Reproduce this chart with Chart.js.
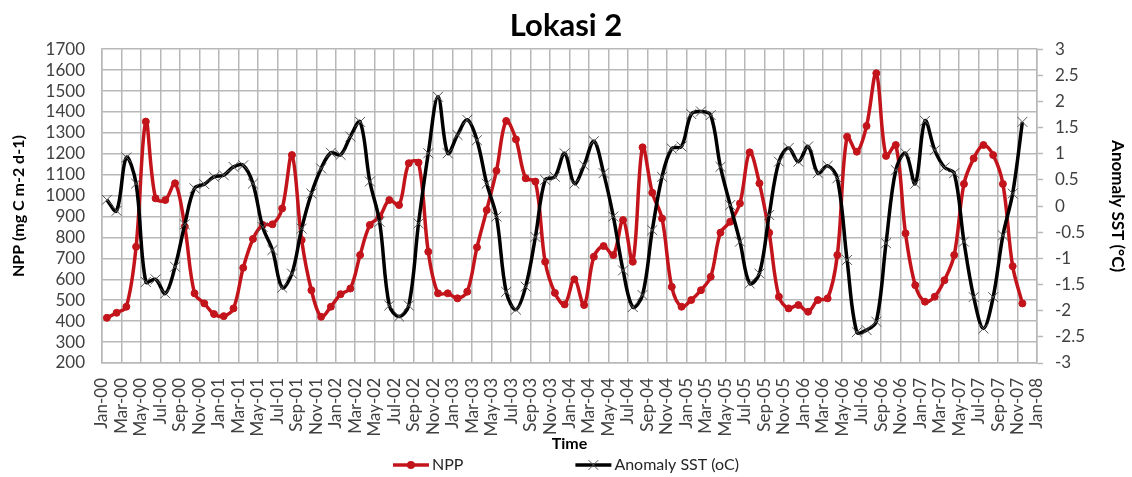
<!DOCTYPE html>
<html>
<head>
<meta charset="utf-8">
<script src="https://cdn.jsdelivr.net/npm/chart.js@4.4.1/dist/chart.umd.min.js"></script>
<style>
  html, body { margin: 0; padding: 0; background: #fff; }
  #wrap { width: 1132px; height: 477px; position: relative; }
</style>
</head>
<body>
<div id="wrap"><canvas id="chart"></canvas></div>
<script>
// x tick labels, one every 2 months
const tickLabels = [
  "Jan-00","Mar-00","May-00","Jul-00","Sep-00","Nov-00",
  "Jan-01","Mar-01","May-01","Jul-01","Sep-01","Nov-01",
  "Jan-02","Mar-02","May-02","Jul-02","Sep-02","Nov-02",
  "Jan-03","Mar-03","May-03","Jul-03","Sep-03","Nov-03",
  "Jan-04","Mar-04","May-04","Jul-04","Sep-04","Nov-04",
  "Jan-05","Mar-05","May-05","Jul-05","Sep-05","Nov-05",
  "Jan-06","Mar-06","May-06","Jul-06","Sep-06","Nov-06",
  "Jan-07","Mar-07","May-07","Jul-07","Sep-07","Nov-07",
  "Jan-08"
];

// monthly values Jan-00 .. Nov-07
const nppValues = [
  416, 440, 469, 756, 1354, 987, 979, 1059, 852, 533, 485, 434,
  424, 461, 655, 793, 860, 863, 939, 1194, 788, 548, 421, 469,
  529, 556, 716, 860, 899, 979, 955, 1155, 1158, 732, 533, 533,
  509, 541, 753, 931, 1119, 1357, 1269, 1083, 1067, 684, 535, 480,
  600, 477, 708, 759, 716, 883, 684, 1231, 1014, 891, 564, 469,
  501, 548, 612, 823, 875, 963, 1207, 1059, 823, 517, 461, 477,
  445, 501, 509, 716, 1282, 1210, 1333, 1585, 1190, 1242, 820, 572,
  493, 517, 596, 716, 1056, 1178, 1242, 1194, 1056, 663, 485
];

const sstValues = [
  0.12, -0.09, 0.93, 0.43, -1.45, -1.40, -1.67, -1.16, -0.35, 0.34, 0.42, 0.56,
  0.59, 0.75, 0.78, 0.43, -0.40, -0.84, -1.56, -1.29, -0.43, 0.24, 0.72, 1.02,
  0.98, 1.33, 1.61, 0.47, -0.30, -1.90, -2.11, -1.90, -0.33, 1.01, 2.09, 1.01,
  1.36, 1.65, 1.26, 0.43, -0.20, -1.64, -1.98, -1.54, -0.59, 0.50, 0.56, 1.01,
  0.43, 0.78, 1.24, 0.63, -0.20, -1.23, -1.93, -1.70, -0.46, 0.56, 1.10, 1.14,
  1.76, 1.81, 1.74, 0.75, 0.02, -0.68, -1.48, -1.29, -0.17, 0.85, 1.11, 0.85,
  1.14, 0.63, 0.77, 0.53, -1.03, -2.41, -2.37, -2.21, -0.71, 0.69, 1.01, 0.43,
  1.63, 1.07, 0.74, 0.63, -0.68, -1.74, -2.34, -1.74, -0.56, 0.24, 1.61
];

const RED = "#c3141b";
const GRID = "#b8b8b8";
const TICK = "#404040";

Chart.defaults.font.family = "Lato";
Chart.defaults.color = TICK;

// points sit mid-month on a month axis
const toPoints = arr => arr.map((v, i) => ({ x: i + 0.5, y: v }));

// legend drawn under the x axis: line + marker + text
const bottomLegend = {
  id: "bottomLegend",
  afterDraw(chart) {
    const ctx = chart.ctx;
    const y = chart.height - 12;
    const iconW = 36, textGap = 3, itemGap = 112;
    ctx.save();
    ctx.font = "16px Lato";
    ctx.textBaseline = "middle";
    ctx.textAlign = "left";
    const items = chart.data.datasets.map(ds => ({ ds, w: ctx.measureText(ds.label).width }));
    const total = items.reduce((s, it) => s + iconW + textGap + it.w, 0) + itemGap * (items.length - 1);
    let x = chart.width / 2 - total / 2;
    items.forEach(({ ds, w }) => {
      ctx.strokeStyle = ds.borderColor;
      ctx.lineWidth = ds.borderWidth;
      ctx.beginPath();
      ctx.moveTo(x, y);
      ctx.lineTo(x + iconW, y);
      ctx.stroke();
      const cx = x + iconW / 2;
      if (ds.pointStyle === "circle") {
        ctx.fillStyle = ds.pointBackgroundColor;
        ctx.beginPath();
        ctx.arc(cx, y, ds.pointRadius + 0.5, 0, Math.PI * 2);
        ctx.fill();
      } else {
        const r = ds.pointRadius * 0.7;
        ctx.strokeStyle = ds.pointBorderColor;
        ctx.lineWidth = 1;
        ctx.beginPath();
        ctx.moveTo(cx - r, y - r); ctx.lineTo(cx + r, y + r);
        ctx.moveTo(cx - r, y + r); ctx.lineTo(cx + r, y - r);
        ctx.stroke();
      }
      ctx.fillStyle = "#262626";
      ctx.fillText(ds.label, x + iconW + textGap, y);
      x += iconW + textGap + w + itemGap;
    });
    ctx.restore();
  }
};

new Chart(document.getElementById("chart"), {
  type: "line",
  data: {
    datasets: [
      {
        label: "NPP",
        data: toPoints(nppValues),
        yAxisID: "y",
        order: 1,
        borderColor: RED,
        backgroundColor: RED,
        borderWidth: 3.5,
        tension: 0.35,
        pointStyle: "circle",
        pointRadius: 3.5,
        pointBackgroundColor: RED,
        pointBorderColor: RED,
        pointBorderWidth: 1
      },
      {
        label: "Anomaly SST (oC)",
        data: toPoints(sstValues),
        yAxisID: "y1",
        order: 0,
        borderColor: "#000000",
        backgroundColor: "#000000",
        borderWidth: 3.5,
        tension: 0.35,
        pointStyle: "crossRot",
        pointRadius: 7,
        pointBorderColor: "#555555",
        pointBorderWidth: 1
      }
    ]
  },
  options: {
    responsive: true,
    maintainAspectRatio: false,
    animation: false,
    layout: { padding: { left: 0, right: 0, top: 0, bottom: 24 } },
    plugins: {
      legend: { display: false },
      tooltip: { enabled: false },
      title: {
        display: true,
        text: "Lokasi 2",
        color: "#000",
        font: { size: 31, weight: "bold" },
        padding: { top: 7, bottom: 5 }
      }
    },
    scales: {
      x: {
        type: "linear",
        min: 0,
        max: 96,
        afterFit: s => { s.height = 90; },
        grid: { color: GRID, lineWidth: 1.5, drawTicks: false },
        border: { color: GRID, width: 1.5 },
        ticks: {
          stepSize: 2,
          autoSkip: false,
          minRotation: 90,
          maxRotation: 90,
          padding: 15,
          color: TICK,
          font: { size: 17 },
          callback: v => tickLabels[Math.round(v / 2)]
        },
        title: {
          display: true,
          text: "Time",
          color: "#000",
          font: { size: 16, weight: "bold" },
          padding: { top: 0, bottom: 0 }
        }
      },
      y: {
        position: "left",
        min: 200,
        max: 1700,
        afterFit: s => { s.width = 102; },
        grid: { color: GRID, lineWidth: 1.5, drawTicks: false },
        border: { color: GRID, width: 1.5 },
        ticks: {
          stepSize: 100,
          autoSkip: false,
          padding: 17,
          color: TICK,
          font: { size: 17 },
          callback: v => String(v)
        },
        title: {
          display: true,
          text: "NPP (mg C m-2 d-1)",
          color: "#000",
          font: { size: 16, weight: "bold" },
          padding: { top: 9, bottom: 0 }
        }
      },
      y1: {
        position: "right",
        min: -3,
        max: 3,
        afterFit: s => { s.width = 95; },
        grid: { drawOnChartArea: false, drawTicks: true, tickLength: 6, tickColor: GRID, tickWidth: 1.5 },
        border: { color: GRID, width: 1.5 },
        ticks: {
          stepSize: 0.5,
          autoSkip: false,
          padding: 12,
          color: TICK,
          font: { size: 17 },
          callback: v => String(Math.round(v * 10) / 10)
        },
        title: {
          display: true,
          text: "Anomaly SST (°C)",
          color: "#000",
          font: { size: 17, weight: "bold" },
          padding: { top: 4, bottom: 0 }
        }
      }
    }
  },
  plugins: [bottomLegend]
});
</script>
</body>
</html>
